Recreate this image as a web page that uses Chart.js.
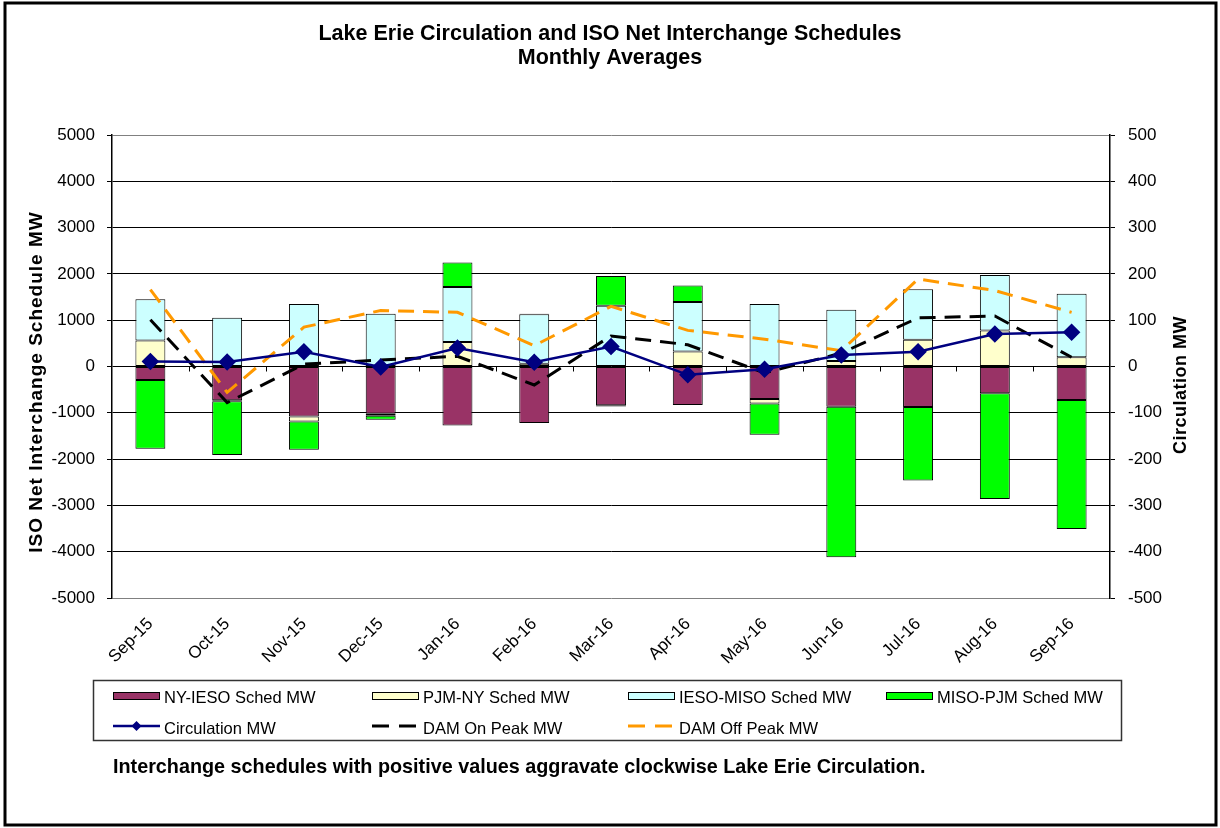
<!DOCTYPE html>
<html><head><meta charset="utf-8">
<script src="https://cdn.jsdelivr.net/npm/chart.js@4.4.1/dist/chart.umd.min.js"></script>
<style>html,body{margin:0;padding:0;background:#fff;}#wrap{width:1220px;height:828px;position:relative;}</style>
</head><body><div id="wrap"><canvas id="c" width="1220" height="828"></canvas></div>
<script>
// ---- data ----
const months = ['Sep-15','Oct-15','Nov-15','Dec-15','Jan-16','Feb-16','Mar-16','Apr-16','May-16','Jun-16','Jul-16','Aug-16','Sep-16'];
const nyIeso    = [-290,-730,-1080,-1022,-1274,-1223,-835,-834,-704,-870,-877,-580,-723];
const pjmNy     = [560,-20,-110,-40,527,60,-30,324,-95,120,576,778,202];
const iesoMiso  = [894,1052,1348,1138,1188,1071,1311,1067,1348,1104,1095,1196,1368];
const misoPjm   = [-1484,-1164,-610,-90,531,10,641,359,-676,-3248,-1585,-2284,-2786];
const circulation = [11,9.5,32,-1,40,9,43,-18,-6,25,32,70,74];
const damOnPeak   = [101,-78,5,14,22,-40,66,47,-14,29,105,109,20];
const damOffPeak  = [166,-56,85,121,117,45,130,78,59,34,189,164,117];
const leftMin = -5000, leftMax = 5000, leftStep = 1000;
const rightMin = -500, rightMax = 500, rightStep = 100;
const titleLines = ['Lake Erie Circulation and ISO Net Interchange Schedules','Monthly Averages'];
const leftTitle = 'ISO Net Interchange Schedule MW';
const rightTitle = 'Circulation MW';
const footnote = 'Interchange schedules with positive values aggravate clockwise Lake Erie Circulation.';

const FF = "'Liberation Sans', Arial, sans-serif";
Chart.defaults.font.family = FF;
Chart.defaults.color = '#000';

const barDs = (label, data, color) => ({
  type:'bar', label, data, backgroundColor:color, borderColor:'#000', borderWidth:1,
  borderSkipped:false, yAxisID:'y', order:3, barPercentage:0.39, categoryPercentage:1
});

function rotatedText(c, text, x, y, font, spacing){
  c.save(); c.translate(x, y); c.rotate(-Math.PI/2);
  c.font = font; c.textAlign='center'; c.textBaseline='middle'; c.fillStyle='#000';
  try { c.letterSpacing = spacing; } catch(e) {}
  c.fillText(text, 0, 0);
  c.restore();
}

const decor = {
  id:'decor',
  beforeDraw(chart){
    const c = chart.ctx; c.save(); c.fillStyle='#fff'; c.fillRect(0,0,chart.width,chart.height); c.restore();
  },
  afterDatasetsDraw(chart){
    const c = chart.ctx, xs = chart.scales.x, ys = chart.scales.y;
    const y0 = ys.getPixelForValue(0);
    c.save(); c.strokeStyle='#000'; c.lineWidth=1;
    for (let i=0;i<months.length-1;i++){
      const bx = Math.round((xs.getPixelForValue(i)+xs.getPixelForValue(i+1))/2)+0.5;
      c.beginPath(); c.moveTo(bx, y0); c.lineTo(bx, y0+5); c.stroke();
    }
    c.restore();
  },
  afterDraw(chart){
    const c = chart.ctx;
    c.save();
    // legend box
    c.strokeStyle='#333'; c.lineWidth=1.5;
    c.strokeRect(93.5,680.5,1028,60);
    const cols=[113,372,628,886], rows=[696,726], textBase=[703,733.5];
    chart.data.datasets.forEach((ds,i)=>{
      const x = i<4 ? cols[i] : cols[i-4];
      const r = i<4 ? 0 : 1;
      const y = rows[r];
      if (ds.type==='bar'){
        c.fillStyle=ds.backgroundColor; c.fillRect(x,y-4,47,8);
        c.strokeStyle='#000'; c.lineWidth=1; c.strokeRect(x+0.5,y-3.5,46,7);
      } else {
        c.strokeStyle=ds.borderColor; c.lineWidth=ds.borderWidth;
        c.setLineDash(ds.borderDash ? [17,10] : []);
        c.beginPath(); c.moveTo(x,y); c.lineTo(x+47,y); c.stroke();
        c.setLineDash([]);
        if (ds.pointRadius>0){
          c.fillStyle=ds.pointBackgroundColor;
          c.beginPath(); c.moveTo(x+23.5,y-5); c.lineTo(x+28.5,y); c.lineTo(x+23.5,y+5); c.lineTo(x+18.5,y); c.closePath(); c.fill();
        }
      }
      c.fillStyle='#000'; c.font='16.5px '+FF; c.textBaseline='alphabetic'; c.textAlign='left';
      c.fillText(ds.label, x+51, textBase[r]);
    });
    // footnote
    c.font='bold 19.8px '+FF; c.textBaseline='alphabetic'; c.textAlign='left'; c.fillStyle='#000';
    c.fillText(footnote, 113, 773);
    c.restore();
    // axis titles (both read bottom to top)
    rotatedText(c, leftTitle, 37, 382, 'bold 19px '+FF, '1px');
    rotatedText(c, rightTitle, 1181, 385, 'bold 18px '+FF, '0.5px');
    // outer border
    c.save(); c.strokeStyle='#000'; c.lineWidth=3; c.strokeRect(5,3,1211,822); c.restore();
  }
};

new Chart(document.getElementById('c'), {
  data:{
    labels: months,
    datasets:[
      barDs('NY-IESO Sched MW', nyIeso, '#993366'),
      barDs('PJM-NY Sched MW', pjmNy, '#FFFFCC'),
      barDs('IESO-MISO Sched MW', iesoMiso, '#CCFFFF'),
      barDs('MISO-PJM Sched MW', misoPjm, '#00FF00'),
      {type:'line', label:'Circulation MW', data:circulation, yAxisID:'y2', order:0,
       borderColor:'#000080', borderWidth:2.5, pointStyle:'rectRot', pointRadius:7, pointHoverRadius:7,
       pointBackgroundColor:'#000080', pointBorderColor:'#000080', tension:0, fill:false},
      {type:'line', label:'DAM On Peak MW', data:damOnPeak, yAxisID:'y2', order:1,
       borderColor:'#000000', borderWidth:3, borderDash:[16,9], pointRadius:0, tension:0, fill:false},
      {type:'line', label:'DAM Off Peak MW', data:damOffPeak, yAxisID:'y2', order:2,
       borderColor:'#FF9900', borderWidth:3, borderDash:[16,9], pointRadius:0, tension:0, fill:false}
    ]
  },
  options:{
    responsive:false, animation:false, devicePixelRatio:1,
    layout:{padding:0},
    plugins:{
      legend:{display:false}, tooltip:{enabled:false},
      title:{display:true, text:titleLines, color:'#000',
        font:{size:21.5, weight:'bold', lineHeight:24/21.5}, padding:{top:22,bottom:65}}
    },
    scales:{
      x:{stacked:true, grid:{display:false, drawTicks:false}, border:{display:false},
        ticks:{autoSkip:false, minRotation:45, maxRotation:45, font:{size:17}, color:'#000', padding:16},
        afterFit(s){ s.height = 230; }},
      y:{position:'left', stacked:true, min:leftMin, max:leftMax,
        ticks:{stepSize:leftStep, font:{size:17}, color:'#000', padding:12, callback:(v)=>String(v)},
        grid:{color:(ctx)=> (ctx.tick && (ctx.tick.value===leftMax||ctx.tick.value===leftMin)) ? '#808080' : '#000',
              tickColor:'#000', lineWidth:1, drawTicks:true, tickLength:5},
        border:{display:true, color:'#000', width:1.5},
        title:{display:false},
        afterFit(s){ s.width = 112; }},
      y2:{position:'right', min:rightMin, max:rightMax,
        ticks:{stepSize:rightStep, font:{size:17}, color:'#000', padding:13, callback:(v)=>String(v)},
        grid:{drawOnChartArea:false, drawTicks:true, tickLength:5, color:'#000'},
        border:{display:true, color:'#000', width:1.5},
        afterFit(s){ s.width = 110; }}
    }
  },
  plugins:[decor]
});
</script></body></html>
